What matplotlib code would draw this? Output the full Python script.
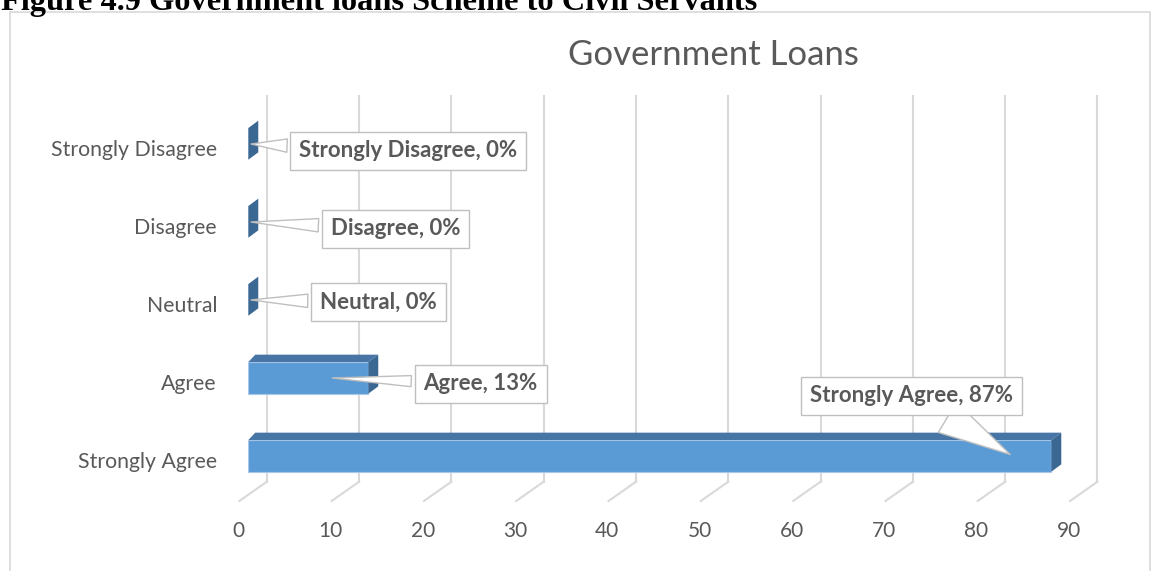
import matplotlib.pyplot as plt
from matplotlib.patches import Polygon, Rectangle

categories = ['Strongly Agree', 'Agree', 'Neutral', 'Disagree', 'Strongly Disagree']
values = [87, 13, 0, 0, 0]
pct_labels = ['87%', '13%', '0%', '0%', '0%']
ticks = list(range(0, 100, 10))

# callout text offsets from the anchor point, in pixels (x right, y up)
label_offsets = [(-101, 60), (151, -6), (130, -2), (147, -7), (160, -7)]
wedge_widths = [1.6, 0.5, 0.6, 0.6, 0.6]

W, H = 1158, 571
GRAY = '#595959'
GRID = '#D9D9D9'
FRONT = '#5B9BD5'
TOP = '#4675A6'
SIDE = '#3B6893'

# fake 3d geometry (value units / category units)
BAR_H = 0.406
DX, DY = 1.08, 0.095      # depth of the bar
WALL_DX = 2.0             # back wall is behind the bar front plane
FLOOR_DX, FLOOR_DY = -2.97, -0.247
WALL_BOT, WALL_TOP = -0.331, 4.62

fig = plt.figure(figsize=(W / 100, H / 100), dpi=100)
ax = fig.add_axes([248.3 / W, 76.1 / H, 830.7 / W, 390 / H])
ax.set_xlim(0, 90)
ax.set_ylim(-0.5, 4.5)
ax.axis('off')

# frame around the chart and the (cut off) caption above it
fig.patches.append(Rectangle((10 / W, -0.05), 1140 / W, (571 - 12) / H + 0.05,
                             transform=fig.transFigure, fill=False, ec=GRID, lw=1.2))
fig.text(1 / W, (571 - 10) / H, 'Figure 4.9 Government loans Scheme to Civil Servants',
         family='Liberation Serif', weight='bold', fontsize=23.3, va='baseline', ha='left')

fig.text(713 / W, (571 - 55) / H, 'Government Loans', family='Lato',
         fontsize=25, color=GRAY, ha='center', va='center')

# back wall gridlines and floor lines
for t in ticks:
    xb = t + WALL_DX
    ax.plot([xb, xb], [WALL_BOT, WALL_TOP], color=GRID, lw=1.5, clip_on=False, zorder=1)
    ax.plot([xb, xb + FLOOR_DX], [WALL_BOT, WALL_BOT + FLOOR_DY], color=GRID, lw=1.5,
            clip_on=False, zorder=1)
    ax.text(t - 1.1, -0.963, str(t), ha='center', va='center', family='Lato',
            fontsize=15, color=GRAY)

# bars
for i, (cat, v) in enumerate(zip(categories, values)):
    y0, y1 = i - BAR_H / 2, i + BAR_H / 2
    if v > 0:
        ax.barh(i, v, height=BAR_H, color=FRONT, ec='#A9C7E8', lw=0.8, zorder=3)
        ax.add_patch(Polygon([(0, y1), (v, y1), (v + DX, y1 + DY), (DX * 0.7, y1 + DY)],
                             closed=True, fc=TOP, ec='none', zorder=3))
    ax.add_patch(Polygon([(v, y0), (v, y1), (v + DX, y1 + DY), (v + DX, y0 + DY)],
                         closed=True, fc=SIDE, ec='none', zorder=3))
    ax.text(-3.39, i - 0.08, cat, ha='right', va='center', family='Lato',
            fontsize=15.3, color=GRAY)

# data callouts
for i, (cat, v, p) in enumerate(zip(categories, values, pct_labels)):
    ox, oy = label_offsets[i]
    ax.annotate(f'{cat}, {p}', xy=(max(v - 4.2, 0), i), xytext=(ox, oy),
                textcoords='offset pixels', ha='center', va='center',
                family='Lato', weight='bold', fontsize=16, color=GRAY,
                bbox=dict(boxstyle='square,pad=0.4', fc='white', ec='#BFBFBF', lw=1),
                arrowprops=dict(arrowstyle=f'wedge,tail_width={wedge_widths[i]},shrink_factor=0.5',
                                fc='white', ec='#BFBFBF', lw=1),
                zorder=5, annotation_clip=False)

plt.savefig('out.png', dpi=100)
